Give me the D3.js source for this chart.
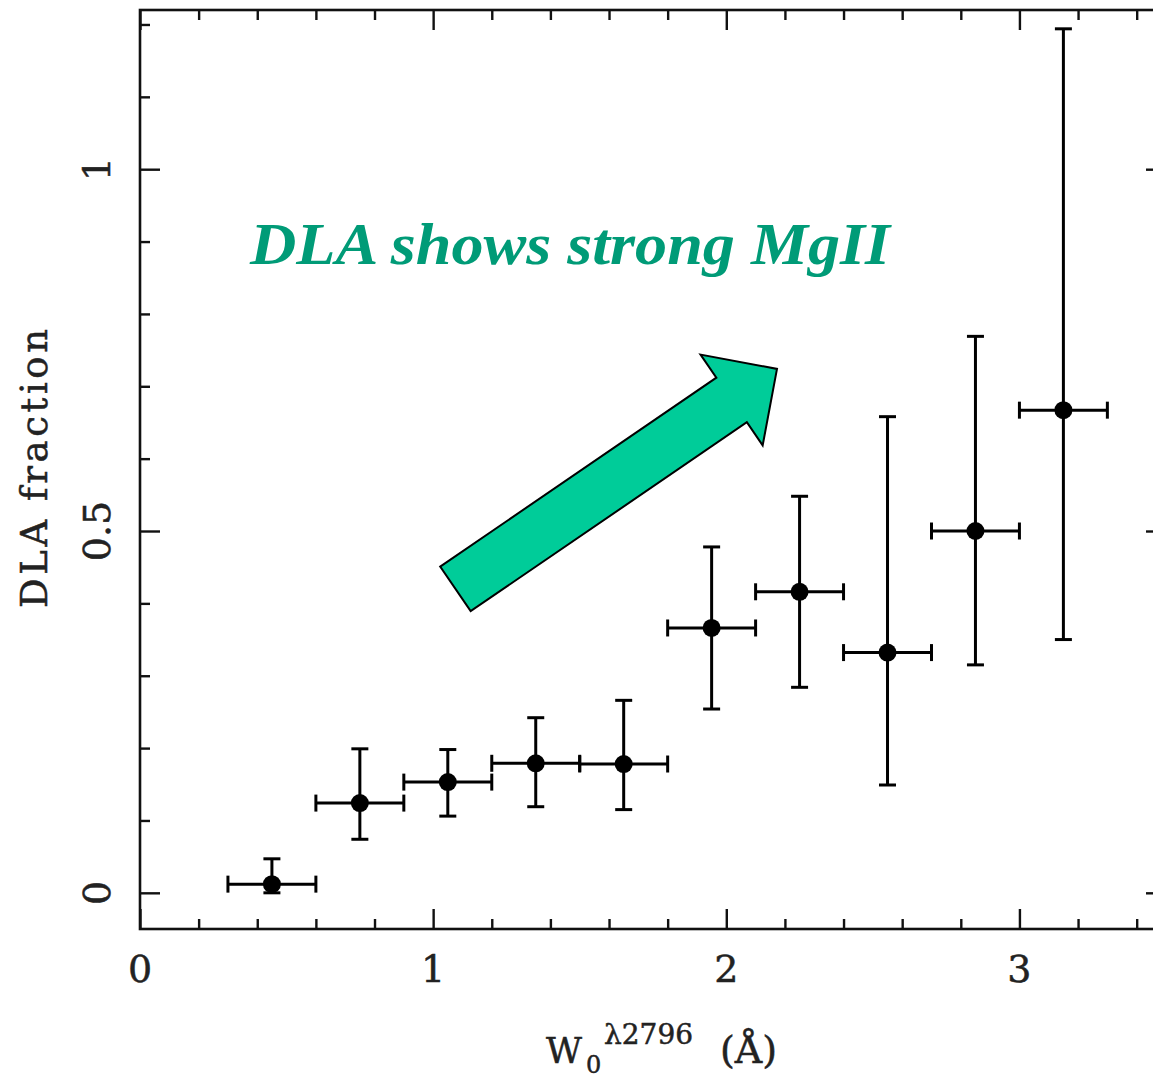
<!DOCTYPE html>
<html>
<head>
<meta charset="utf-8">
<script src="https://cdn.jsdelivr.net/npm/d3@7"></script>
<style>
  html, body { margin: 0; padding: 0; background: #fff; }
  svg { display: block; }
</style>
</head>
<body>
<svg id="chart" width="1153" height="1082"></svg>
<script>
// ---- data ----
const wCenters = [0.45, 0.75, 1.05, 1.35, 1.65, 1.95, 2.25, 2.55, 2.85, 3.15];
const wHalfBin = [0.15, 0.15, 0.15, 0.15, 0.15, 0.15, 0.15, 0.15, 0.15, 0.15];
const dlaFraction = [0.012, 0.124, 0.153, 0.179, 0.178, 0.366, 0.416, 0.332, 0.500, 0.667];
const errUpper = [0.047, 0.199, 0.198, 0.242, 0.266, 0.478, 0.548, 0.658, 0.769, 1.194];
const errLower = [0.000, 0.074, 0.106, 0.119, 0.115, 0.254, 0.284, 0.149, 0.315, 0.350];
const xTickLabels = ["0", "1", "2", "3"];
const yTickLabels = ["0", "0.5", "1"];
const annotationText = "DLA shows strong MgII";
// arrow annotation in data units (tail to head tip)
const arrowTail = [1.076, 0.420];
const arrowHead = [2.173, 0.724];

const svg = d3.select("#chart");
const x = d3.scaleLinear().domain([0, 3.5]).range([140, 1166]);
const y = d3.scaleLinear().domain([-0.05, 1.22]).range([929, 10]);

const labelFont = "'DejaVu Serif', 'Liberation Serif', serif";

// ---- frame ----
svg.append("rect")
  .attr("x", x(0)).attr("y", y(1.22))
  .attr("width", x(3.5) - x(0)).attr("height", y(-0.05) - y(1.22))
  .attr("fill", "none").attr("stroke", "#111").attr("stroke-width", 2.6);

// ---- ticks via d3 axes (inward) ----
const xMinor = d3.range(0, 3.51, 0.2).filter(v => Math.abs(v - Math.round(v)) > 1e-6);
const xMajor = [0, 1, 2, 3];
const yMinor = d3.range(0, 1.21, 0.1).filter(v => Math.abs(v * 2 - Math.round(v * 2)) > 1e-6);
const yMajor = [0, 0.5, 1];

function styleAxis(g) {
  g.select(".domain").remove();
  g.selectAll(".tick line").attr("stroke", "#111").attr("stroke-width", 2.4);
  g.selectAll(".tick text").remove();
}
svg.append("g").attr("transform", `translate(0,${y(-0.05)})`)
  .call(d3.axisTop(x).tickValues(xMinor).tickSize(10)).call(styleAxis);
svg.append("g").attr("transform", `translate(0,${y(-0.05)})`)
  .call(d3.axisTop(x).tickValues(xMajor).tickSize(20)).call(styleAxis);
svg.append("g").attr("transform", `translate(0,${y(1.22)})`)
  .call(d3.axisBottom(x).tickValues(xMinor).tickSize(10)).call(styleAxis);
svg.append("g").attr("transform", `translate(0,${y(1.22)})`)
  .call(d3.axisBottom(x).tickValues(xMajor).tickSize(20)).call(styleAxis);
svg.append("g").attr("transform", `translate(${x(0)},0)`)
  .call(d3.axisRight(y).tickValues(yMinor).tickSize(10)).call(styleAxis);
svg.append("g").attr("transform", `translate(${x(0)},0)`)
  .call(d3.axisRight(y).tickValues(yMajor).tickSize(20)).call(styleAxis);
svg.append("g").attr("transform", `translate(${x(3.5)},0)`)
  .call(d3.axisLeft(y).tickValues(yMinor).tickSize(10)).call(styleAxis);
svg.append("g").attr("transform", `translate(${x(3.5)},0)`)
  .call(d3.axisLeft(y).tickValues(yMajor).tickSize(20)).call(styleAxis);

// ---- tick labels ----
svg.append("g").selectAll("text").data(xMajor).join("text")
  .attr("x", d => x(d)).attr("y", 982)
  .attr("text-anchor", "middle")
  .attr("font-family", labelFont).attr("font-size", 38)
  .attr("fill", "#222").attr("stroke", "#222").attr("stroke-width", 0.5)
  .text((d, i) => xTickLabels[i]);

svg.append("g").selectAll("text").data(yMajor).join("text")
  .attr("transform", d => `translate(110,${y(d)}) rotate(-90)`)
  .attr("text-anchor", "middle")
  .attr("font-family", labelFont).attr("font-size", 38)
  .attr("fill", "#222").attr("stroke", "#222").attr("stroke-width", 0.5)
  .text((d, i) => yTickLabels[i]);

// ---- axis titles ----
svg.append("text")
  .attr("transform", `translate(47,${(329 + 608) / 2}) rotate(-90)`)
  .attr("text-anchor", "middle")
  .attr("font-family", labelFont).attr("font-size", 37)
  .attr("fill", "#222").attr("stroke", "#222").attr("stroke-width", 0.5)
  .attr("textLength", 279).attr("lengthAdjust", "spacing")
  .text("DLA fraction");

const xl = svg.append("text")
  .attr("x", 546).attr("y", 1063)
  .attr("font-family", labelFont).attr("font-size", 35)
  .attr("fill", "#222").attr("stroke", "#222").attr("stroke-width", 0.5);
xl.append("tspan").text("W");
xl.append("tspan").attr("x", 586).attr("y", 1073).attr("font-size", 24).text("0");
xl.append("tspan").attr("x", 604).attr("y", 1044).attr("font-size", 28).text("λ2796");
xl.append("tspan").attr("x", 720).attr("y", 1063).attr("font-size", 38).text("(Å)");

// ---- error bars ----
const pts = wCenters.map((c, i) => ({
  x: c, h: wHalfBin[i], y: dlaFraction[i], lo: errLower[i], hi: errUpper[i]
}));
const cap = 8.5;
const eg = svg.append("g").attr("stroke", "#000").attr("stroke-width", 3).attr("fill", "none");
eg.selectAll("line.h").data(pts).join("line").attr("class", "h")
  .attr("x1", d => x(d.x - d.h)).attr("x2", d => x(d.x + d.h))
  .attr("y1", d => y(d.y)).attr("y2", d => y(d.y));
eg.selectAll("line.hl").data(pts).join("line").attr("class", "hl")
  .attr("x1", d => x(d.x - d.h)).attr("x2", d => x(d.x - d.h))
  .attr("y1", d => y(d.y) - cap).attr("y2", d => y(d.y) + cap);
eg.selectAll("line.hr").data(pts).join("line").attr("class", "hr")
  .attr("x1", d => x(d.x + d.h)).attr("x2", d => x(d.x + d.h))
  .attr("y1", d => y(d.y) - cap).attr("y2", d => y(d.y) + cap);
eg.selectAll("line.v").data(pts).join("line").attr("class", "v")
  .attr("x1", d => x(d.x)).attr("x2", d => x(d.x))
  .attr("y1", d => y(d.lo)).attr("y2", d => y(d.hi));
eg.selectAll("line.vt").data(pts).join("line").attr("class", "vt")
  .attr("x1", d => x(d.x) - cap).attr("x2", d => x(d.x) + cap)
  .attr("y1", d => y(d.hi)).attr("y2", d => y(d.hi));
eg.selectAll("line.vb").data(pts).join("line").attr("class", "vb")
  .attr("x1", d => x(d.x) - cap).attr("x2", d => x(d.x) + cap)
  .attr("y1", d => y(d.lo)).attr("y2", d => y(d.lo));
svg.append("g").selectAll("circle").data(pts).join("circle")
  .attr("cx", d => x(d.x)).attr("cy", d => y(d.y)).attr("r", 9).attr("fill", "#000");

// ---- arrow annotation ----
(function drawArrow() {
  const x0 = x(arrowTail[0]), y0 = y(arrowTail[1]);
  const x1 = x(arrowHead[0]), y1 = y(arrowHead[1]);
  const dx = x1 - x0, dy = y1 - y0;
  const L = Math.hypot(dx, dy);
  const ux = dx / L, uy = dy / L;
  const nx = -uy, ny = ux;
  const shaftHalf = 27, headHalf = 55, headLen = 55;
  const P = (a, b) => [x0 + ux * a + nx * b, y0 + uy * a + ny * b];
  const poly = [
    P(0, -shaftHalf), P(L - headLen, -shaftHalf), P(L - headLen, -headHalf),
    P(L, 0),
    P(L - headLen, headHalf), P(L - headLen, shaftHalf), P(0, shaftHalf)
  ];
  svg.append("polygon")
    .attr("points", poly.map(p => p.join(",")).join(" "))
    .attr("fill", "#00CC99").attr("stroke", "#000").attr("stroke-width", 2);
})();

// ---- annotation text ----
svg.append("text")
  .attr("x", 250).attr("y", 264)
  .attr("font-family", "'Liberation Serif', 'Times New Roman', serif")
  .attr("font-style", "italic").attr("font-weight", "bold")
  .attr("font-size", 60)
  .attr("fill", "#009B77")
  .attr("textLength", 640).attr("lengthAdjust", "spacingAndGlyphs")
  .text(annotationText);
</script>
</body>
</html>
